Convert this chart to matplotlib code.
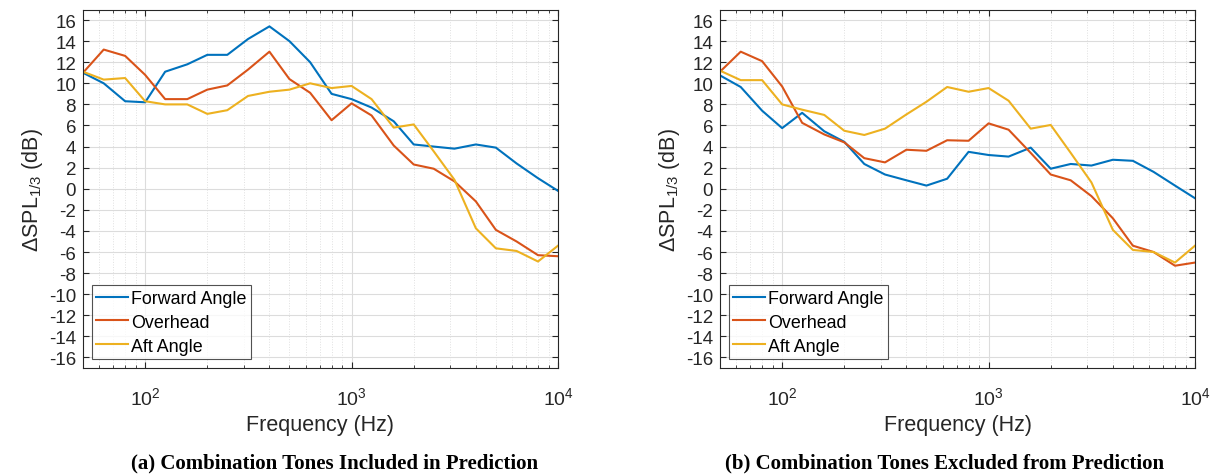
import matplotlib
matplotlib.use("Agg")
import matplotlib.pyplot as plt
from matplotlib.ticker import LogLocator, FixedLocator, NullFormatter

freq = [50, 63, 80, 100, 125, 160, 200, 250, 315, 400, 500, 630, 800, 1000,
        1250, 1600, 2000, 2500, 3150, 4000, 5000, 6300, 8000, 10000]

# (a) Combination tones included
fwd_a = [11.0, 10.0, 8.3, 8.2, 11.1, 11.8, 12.7, 12.7, 14.2, 15.4, 14.0, 12.0, 9.0, 8.5,
         7.7, 6.4, 4.2, 4.0, 3.8, 4.2, 3.9, 2.4, 1.0, -0.2]
ovh_a = [11.0, 13.2, 12.6, 10.8, 8.5, 8.5, 9.4, 9.8, 11.3, 13.0, 10.4, 9.1, 6.5, 8.1,
         6.95, 4.1, 2.3, 1.9, 0.7, -1.2, -3.9, -5.0, -6.3, -6.4]
aft_a = [11.1, 10.35, 10.5, 8.3, 8.0, 8.0, 7.1, 7.45, 8.8, 9.2, 9.4, 10.0, 9.55, 9.75,
         8.5, 5.8, 6.1, 3.55, 0.85, -3.75, -5.65, -5.9, -6.9, -5.4]

# (b) Combination tones excluded
fwd_b = [10.75, 9.65, 7.4, 5.75, 7.2, 5.45, 4.45, 2.35, 1.35, 0.8, 0.3, 0.95, 3.5, 3.2,
         3.05, 3.9, 1.9, 2.35, 2.2, 2.75, 2.65, 1.6, 0.3, -0.9]
ovh_b = [11.1, 13.0, 12.1, 9.7, 6.25, 5.15, 4.4, 2.9, 2.5, 3.7, 3.6, 4.6, 4.55, 6.2,
         5.6, 3.4, 1.35, 0.8, -0.7, -2.8, -5.4, -6.0, -7.3, -7.0]
aft_b = [11.2, 10.3, 10.3, 8.0, 7.5, 7.0, 5.5, 5.1, 5.7, 7.05, 8.25, 9.65, 9.2, 9.55,
         8.35, 5.7, 6.05, 3.4, 0.6, -3.9, -5.8, -6.0, -7.0, -5.4]

series_names = ["Forward Angle", "Overhead", "Aft Angle"]
colors = ["#0072BD", "#D95319", "#EDB120"]
yticks = list(range(-16, 17, 2))
captions = ["(a) Combination Tones Included in Prediction",
            "(b) Combination Tones Excluded from Prediction"]

plt.rcParams['font.family'] = ['Liberation Sans', 'DejaVu Sans']
plt.rcParams['mathtext.fontset'] = 'custom'
plt.rcParams['mathtext.rm'] = 'Liberation Sans'
plt.rcParams['mathtext.it'] = 'Liberation Sans'
plt.rcParams['axes.unicode_minus'] = False

fig = plt.figure(figsize=(12.14, 4.77), dpi=100)
lefts = [83 / 1214, 720 / 1214]
caption_x = [335 / 1214, 945 / 1214]
panels = [(fwd_a, ovh_a, aft_a), (fwd_b, ovh_b, aft_b)]

for i, (left, data) in enumerate(zip(lefts, panels)):
    ax = fig.add_axes([left, 1 - 369 / 477, 475 / 1214, 358.5 / 477])
    for ys, name, c in zip(data, series_names, colors):
        ax.plot(freq, ys, color=c, lw=1.5, label=name)
    ax.set_xscale('log')
    ax.set_xlim(50, 10000)
    ax.set_ylim(-17, 17)
    ax.yaxis.set_major_locator(FixedLocator(yticks))
    ax.xaxis.set_major_locator(LogLocator(base=10, numticks=10))
    ax.xaxis.set_minor_locator(LogLocator(base=10, subs=range(2, 10), numticks=10))
    ax.xaxis.set_minor_formatter(NullFormatter())
    ax.grid(True, which='major', color='#dcdcdc', lw=0.8)
    ax.grid(True, which='minor', axis='x', color='#e0e0e0', lw=0.7, ls=':')
    ax.set_axisbelow(True)
    ax.tick_params(which='both', direction='in', top=True, right=True, labelsize=13.5,
                   color='#262626', labelcolor='#262626')
    ax.tick_params(which='major', length=4)
    ax.tick_params(which='minor', length=2.5)
    ax.tick_params(axis='y', which='major', pad=5)
    ax.tick_params(axis='x', which='major', labelsize=14, pad=13)
    for s in ax.spines.values():
        s.set_color('#262626')
        s.set_linewidth(0.8)
    ax.set_xlabel('Frequency (Hz)', fontsize=15.5, color='#262626', labelpad=4)
    ax.set_ylabel(r'$\Delta$SPL$_{1/3}$ (dB)', fontsize=15.5, color='#262626', labelpad=3)
    leg = ax.legend(loc='lower left', fontsize=12.9, frameon=True, fancybox=False,
                    edgecolor='#262626', borderpad=0.25, labelspacing=0.38,
                    handlelength=1.75, handletextpad=0.2, borderaxespad=0.5)
    leg.get_frame().set_linewidth(0.8)
    fig.text(caption_x[i], 1 - 463 / 477, captions[i], ha='center', va='center',
             fontsize=15, fontweight='bold', family='Liberation Serif')

fig.savefig('out.png', dpi=100)
